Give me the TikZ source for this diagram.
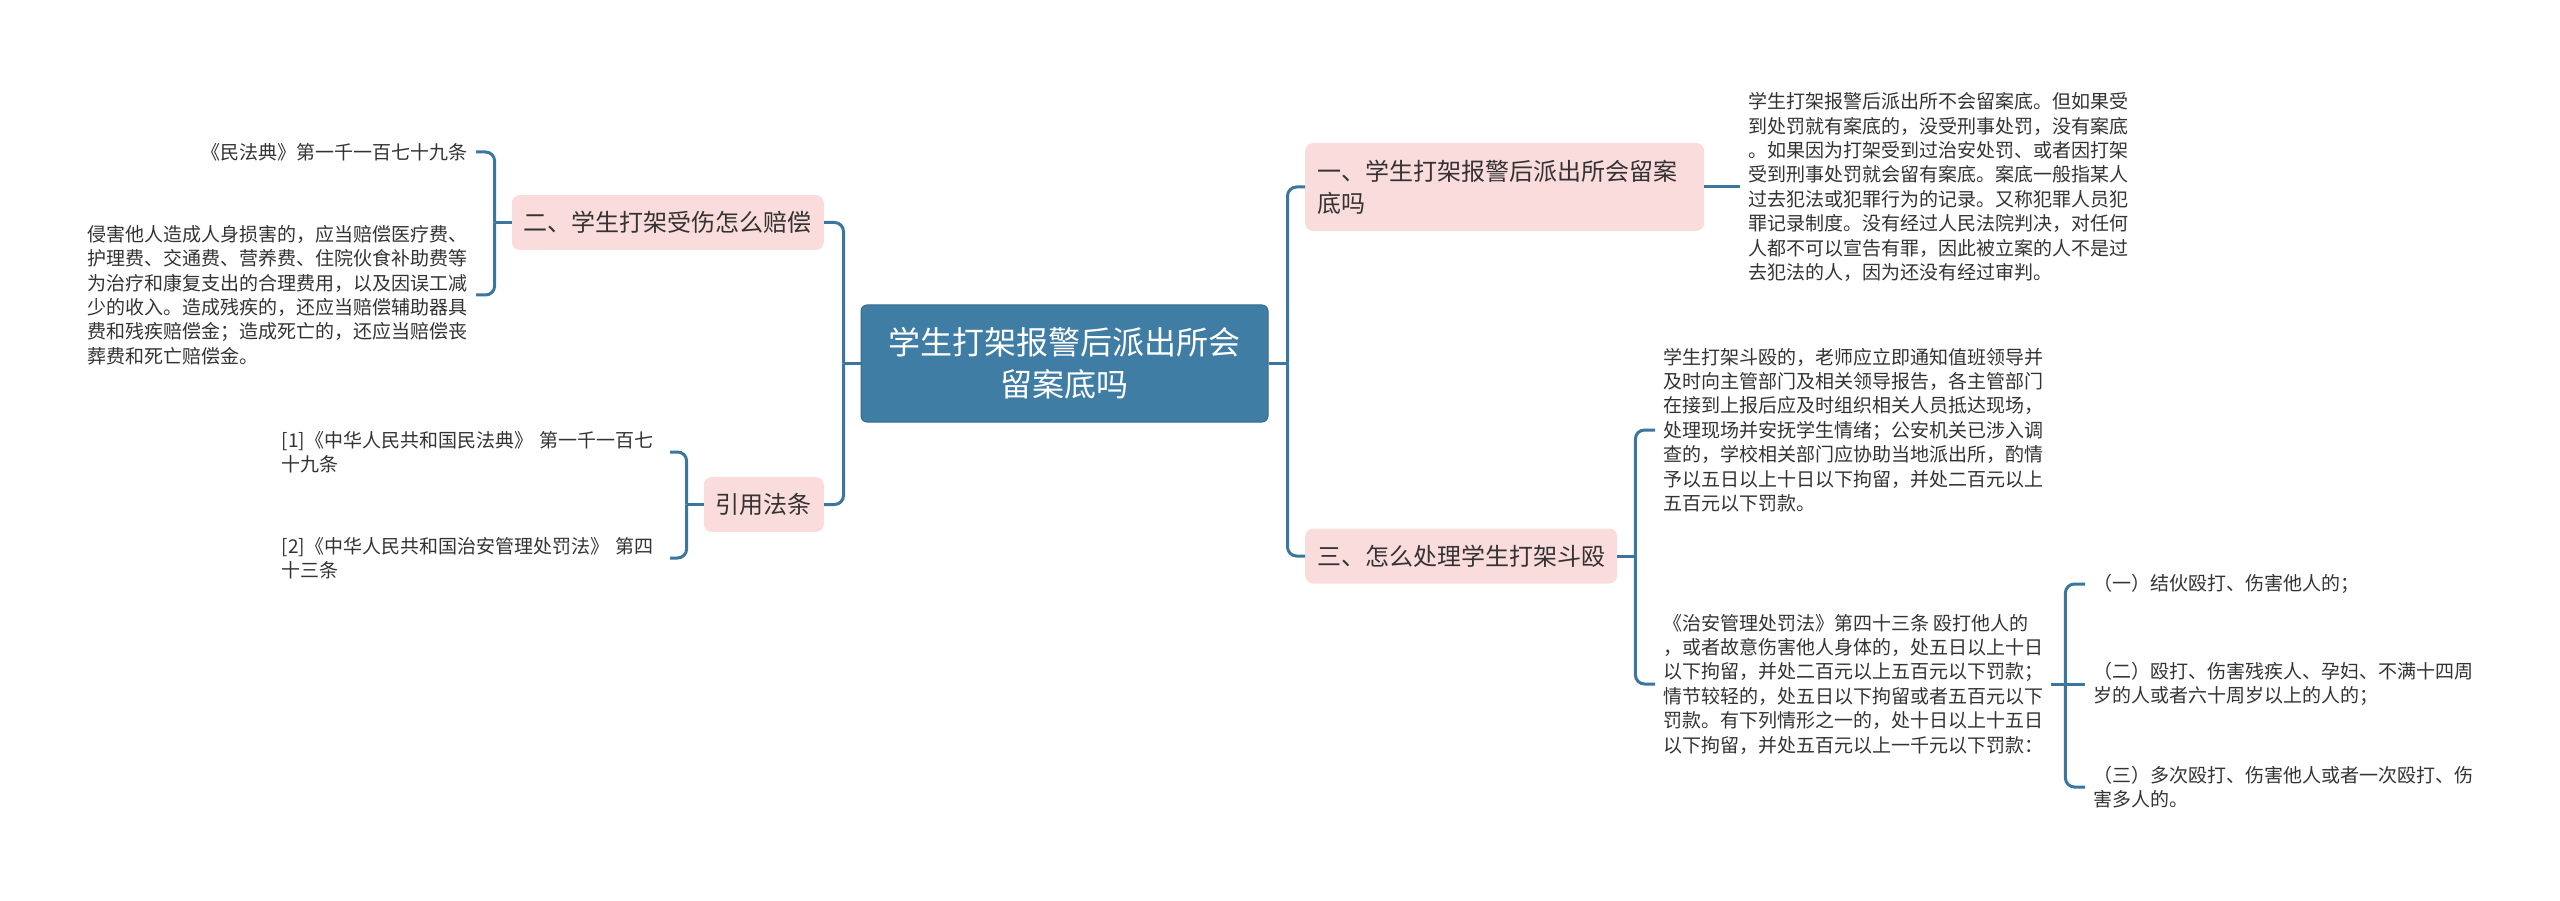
\documentclass[tikz,border=0pt]{standalone}
\usepackage{fontspec}
\newfontfamily\cjk{Noto Sans CJK SC}
\definecolor{rootblue}{HTML}{3F7DA5}
\definecolor{trunkblue}{HTML}{3A769E}
\definecolor{topicpink}{HTML}{FBDCDC}
\definecolor{inkgray}{HTML}{333333}
\tikzset{
  root/.style={rectangle, rounded corners=6pt, fill=rootblue, draw=rootblue!85!black, line width=1pt,
    text=white, font=\cjk\fontsize{32pt}{42pt}\selectfont, align=center,
    minimum width=407pt, minimum height=117pt},
  topic/.style={rectangle, rounded corners=8pt, fill=topicpink, text=inkgray,
    font=\cjk\fontsize{24pt}{32pt}\selectfont, inner xsep=12pt, minimum height=55pt, align=left},
  leaf/.style={text=inkgray, font=\cjk\fontsize{19pt}{24.4pt}\selectfont,
    inner xsep=8pt, inner ysep=0pt, align=left},
  link/.style={draw=trunkblue, line width=3pt, rounded corners=9pt}
}
\begin{document}
\begin{tikzpicture}[x=1pt,y=-1pt]
\useasboundingbox (0,0) rectangle (2560,901);
\node[root] (root) at (1064.5,363.5) {学生打架报警后派出所会\\留案底吗};
% left side
\node[topic, anchor=east] (t2) at (824,222.5) {二、学生打架受伤怎么赔偿};
\node[topic, anchor=east] (cite) at (824,504.5) {引用法条};
\node[leaf, anchor=east] (t2a) at (476,152) {《民法典》第一千一百七十九条};
\node[leaf, anchor=east] (t2b) at (476,295) {侵害他人造成人身损害的，应当赔偿医疗费、\\护理费、交通费、营养费、住院伙食补助费等\\为治疗和康复支出的合理费用，以及因误工减\\少的收入。造成残疾的，还应当赔偿辅助器具\\费和残疾赔偿金；造成死亡的，还应当赔偿丧\\葬费和死亡赔偿金。};
\node[leaf, anchor=east, text width=380pt] (cite1) at (670,452) {[1]《中华人民共和国民法典》 第一千一百七\\十九条};
\node[leaf, anchor=east, text width=380pt] (cite2) at (670,558) {[2]《中华人民共和国治安管理处罚法》 第四\\十三条};
% right side
\node[topic, anchor=west, text width=375pt, minimum height=88pt] (t1) at (1305,187) {一、学生打架报警后派出所会留案\\底吗};
\node[topic, anchor=west] (t3) at (1305,556) {三、怎么处理学生打架斗殴};
\node[leaf, anchor=west] (t1a) at (1740,187) {学生打架报警后派出所不会留案底。但如果受\\到处罚就有案底的，没受刑事处罚，没有案底\\。如果因为打架受到过治安处罚、或者因打架\\受到刑事处罚就会留有案底。案底一般指某人\\过去犯法或犯罪行为的记录。又称犯罪人员犯\\罪记录制度。没有经过人民法院判决，对任何\\人都不可以宣告有罪，因此被立案的人不是过\\去犯法的人，因为还没有经过审判。};
\node[leaf, anchor=west] (t3a) at (1655,430) {学生打架斗殴的，老师应立即通知值班领导并\\及时向主管部门及相关领导报告，各主管部门\\在接到上报后应及时组织相关人员抵达现场，\\处理现场并安抚学生情绪；公安机关已涉入调\\查的，学校相关部门应协助当地派出所，酌情\\予以五日以上十日以下拘留，并处二百元以上\\五百元以下罚款。};
\node[leaf, anchor=west] (t3b) at (1655,684) {《治安管理处罚法》第四十三条 殴打他人的\\，或者故意伤害他人身体的，处五日以上十日\\以下拘留，并处二百元以上五百元以下罚款；\\情节较轻的，处五日以下拘留或者五百元以下\\罚款。有下列情形之一的，处十日以上十五日\\以下拘留，并处五百元以上一千元以下罚款：};
\node[leaf, anchor=west] (s1) at (2085,584) {（一）结伙殴打、伤害他人的；};
\node[leaf, anchor=west] (s2) at (2085,684) {（二）殴打、伤害残疾人、孕妇、不满十四周\\岁的人或者六十周岁以上的人的；};
\node[leaf, anchor=west] (s3) at (2085,787) {（三）多次殴打、伤害他人或者一次殴打、伤\\害多人的。};
% connectors
\draw[link] (root.west) -- ++(-17,0) coordinate (lfork);
\draw[link] (lfork) |- (t2.east);
\draw[link] (lfork) |- (cite.east);
\draw[link] (root.east) -- ++(19,0) coordinate (rfork);
\draw[link] (rfork) |- (t1.west);
\draw[link] (rfork) |- (t3.west);
\draw[link] (t2.west) -- ++(-17,0) coordinate (t2fork);
\draw[link] (t2fork) |- (t2a.east);
\draw[link] (t2fork) |- (t2b.east);
\draw[link] (cite.west) -- ++(-17,0) coordinate (citefork);
\draw[link] (citefork) |- (cite1.east);
\draw[link] (citefork) |- (cite2.east);
\draw[link] (t1.east) -- (t1a.west);
\draw[link] (t3.east) -- ++(18,0) coordinate (t3fork);
\draw[link] (t3fork) |- (t3a.west);
\draw[link] (t3fork) |- (t3b.west);
\draw[link] (t3b.east) -- ++(14,0) coordinate (sfork);
\draw[link] (sfork) |- (s1.west);
\draw[link] (sfork) -- (s2.west);
\draw[link] (sfork) |- (s3.west);
\end{tikzpicture}
\end{document}
